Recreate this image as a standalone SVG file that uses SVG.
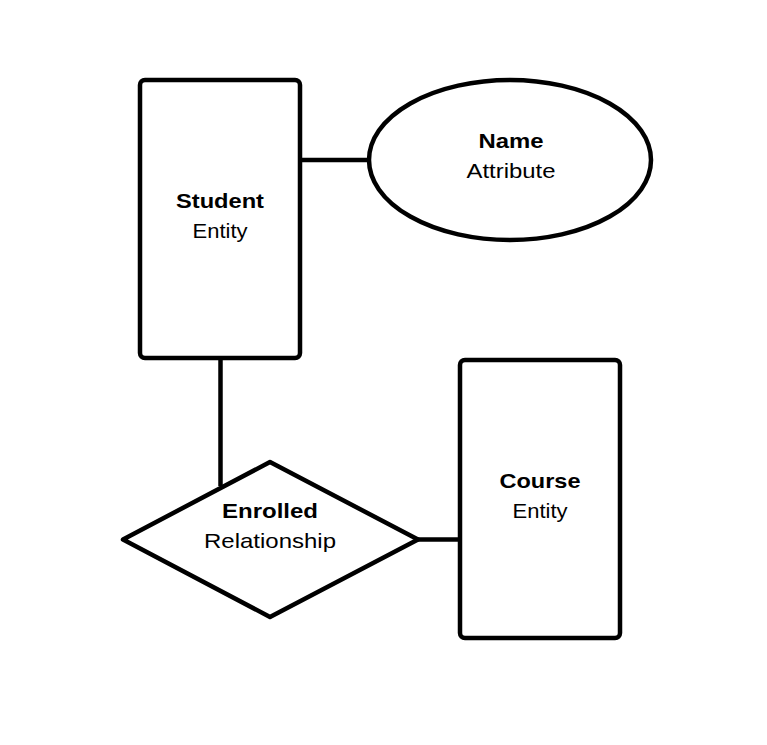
<svg xmlns="http://www.w3.org/2000/svg" width="767" height="745" viewBox="0 0 767 745">
<style>
.shape{fill:#fff;stroke:#000;stroke-width:4.5;stroke-linejoin:round}
.conn{stroke:#000;stroke-width:4.5;fill:none}
text{font-family:"Liberation Sans",Arial,sans-serif;font-size:21px;fill:#000;text-anchor:middle}
.b{font-weight:bold}
</style>
<rect width="767" height="745" fill="#fff"/>
<g id="connectors">
<line class="conn" x1="300" y1="160" x2="370" y2="160"/>
<line class="conn" x1="220.5" y1="358" x2="220.5" y2="486"/>
<line class="conn" x1="418" y1="539.5" x2="460" y2="539.5"/>
</g>
<g id="student">
<rect class="shape" x="140" y="80" width="160" height="278" rx="5"/>
<text class="b" x="220" y="208" textLength="88" lengthAdjust="spacingAndGlyphs">Student</text>
<text x="220" y="238" textLength="55" lengthAdjust="spacingAndGlyphs">Entity</text>
</g>
<g id="name">
<ellipse class="shape" cx="510" cy="160" rx="141" ry="80"/>
<text class="b" x="511" y="148" textLength="65" lengthAdjust="spacingAndGlyphs">Name</text>
<text x="511" y="178" textLength="89" lengthAdjust="spacingAndGlyphs">Attribute</text>
</g>
<g id="course">
<rect class="shape" x="460" y="360" width="160" height="278" rx="5"/>
<text class="b" x="540" y="488" textLength="81" lengthAdjust="spacingAndGlyphs">Course</text>
<text x="540" y="518" textLength="55" lengthAdjust="spacingAndGlyphs">Entity</text>
</g>
<g id="enrolled">
<path class="shape" d="M270 462 L418 539.5 L270 617 L123 539.5 Z"/>
<text class="b" x="270" y="518" textLength="96" lengthAdjust="spacingAndGlyphs">Enrolled</text>
<text x="270" y="548" textLength="132" lengthAdjust="spacingAndGlyphs">Relationship</text>
</g>
</svg>
